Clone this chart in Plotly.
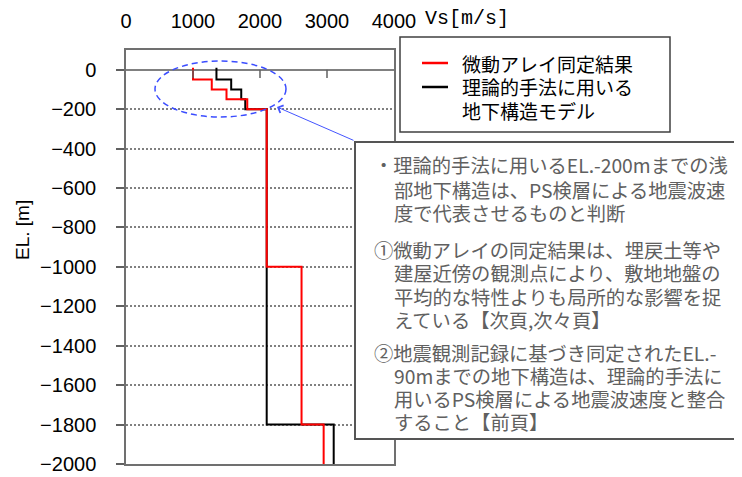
import plotly.graph_objects as go

# ---------------- data ----------------
# Micro-tremor array identification result (red)
red_top = [10, -50, -100, -150, -200, -1000, -1800]
red_bottom = [-50, -100, -150, -200, -1000, -1800, -2000]
red_vs = [1000, 1280, 1500, 1810, 2100, 2620, 2950]

# Subsurface model used in theoretical method (black)
blk_top = [10, -50, -100, -150, -200, -1800]
blk_bottom = [-50, -100, -150, -200, -1800, -2000]
blk_vs = [1350, 1570, 1720, 1780, 2100, 3100]

x_ticks = [0, 1000, 2000, 3000, 4000]
y_ticks = [0, -200, -400, -600, -800, -1000, -1200, -1400, -1600, -1800, -2000]
x_tick_minor_marks = [1000, 2000, 3000]

legend_names = ["微動アレイ同定結果", "理論的手法に用いる", "地下構造モデル"]
note_lines = [
    ("・理論的手法に用いるEL.-200mまでの浅", 0),
    ("部地下構造は、PS検層による地震波速", 1),
    ("度で代表させるものと判断", 1),
    ("①微動アレイの同定結果は、埋戻土等や", 0),
    ("建屋近傍の観測点により、敷地地盤の", 1),
    ("平均的な特性よりも局所的な影響を捉", 1),
    ("えている【次頁,次々頁】", 1),
    ("②地震観測記録に基づき同定されたEL.-", 0),
    ("90mまでの地下構造は、理論的手法に", 1),
    ("用いるPS検層による地震波速度と整合", 1),
    ("すること【前頁】", 1),
]
note_y = [165, 190, 213, 250, 273, 297, 320, 353, 376, 399, 422]


def step_profile(tops, bottoms, vs):
    xs, ys = [], []
    for t, b, v in zip(tops, bottoms, vs):
        xs += [v, v]
        ys += [t, b]
    return xs, ys


# ---------------- geometry ----------------
# the page body adds an 8px margin, so layout positions are shifted by it
OFF = 8
WIDTH, HEIGHT = 742, 477
L, T, PW, PH = 126 - OFF, 50 - OFF, 268, 414
R = WIDTH - L - PW
B = HEIGHT - T - PH


def px(x):
    return (x - OFF - L) / PW


def py(y):
    return (T + PH - (y - OFF)) / PH


JP = "Noto Sans CJK JP"
SANS = "Liberation Sans, Arial, sans-serif"

fig = go.Figure()
bx, by = step_profile(blk_top, blk_bottom, blk_vs)
rx, ry = step_profile(red_top, red_bottom, red_vs)
fig.add_trace(go.Scatter(x=bx, y=by, mode="lines", line=dict(color="#000000", width=2),
                         name="理論的手法に用いる地下構造モデル", showlegend=False))
fig.add_trace(go.Scatter(x=rx, y=ry, mode="lines", line=dict(color="#ff0000", width=2),
                         name="微動アレイ同定結果", showlegend=False))

shapes = []
# tick marks on the zero line
for v in x_tick_minor_marks:
    shapes.append(dict(type="line", xref="x", yref="y", x0=v, x1=v, y0=0, y1=-42,
                       line=dict(color="#606060", width=1.5)))
# blue dashed ellipse
shapes.append(dict(type="circle", xref="paper", yref="paper",
                   x0=px(155), x1=px(286), y0=py(117), y1=py(61),
                   line=dict(color="#3a4cff", width=1.5, dash="6px,4px")))
# legend box
shapes.append(dict(type="rect", xref="paper", yref="paper",
                   x0=px(400), x1=px(670), y0=py(132), y1=py(37),
                   line=dict(color="#404040", width=1.5), fillcolor="white"))
shapes.append(dict(type="line", xref="paper", yref="paper", x0=px(422), x1=px(448),
                   y0=py(63), y1=py(63), line=dict(color="#ff0000", width=2.5)))
shapes.append(dict(type="line", xref="paper", yref="paper", x0=px(422), x1=px(448),
                   y0=py(87), y1=py(87), line=dict(color="#000000", width=2.5)))
# note box
shapes.append(dict(type="rect", xref="paper", yref="paper",
                   x0=px(355), x1=px(760), y0=py(439), y1=py(142),
                   line=dict(color="#555555", width=2), fillcolor="white", layer="above"))

annotations = []
# legend text
for name, yy in zip(legend_names, [63, 87, 110]):
    annotations.append(dict(text=name, xref="paper", yref="paper", x=px(460), y=py(yy),
                            xanchor="left", yanchor="middle", showarrow=False,
                            font=dict(family=JP, size=19, color="#000000")))
# note text
for (line, indent), yy in zip(note_lines, note_y):
    annotations.append(dict(text=line, xref="paper", yref="paper",
                            x=px(372 + 19.5 * indent), y=py(yy),
                            xanchor="left", yanchor="middle", showarrow=False,
                            font=dict(family=JP, size=19.3, color="#606060")))
# arrow from note box to ellipse
annotations.append(dict(text="", xref="paper", yref="paper", x=px(277), y=py(107),
                        ax=78, ay=34, showarrow=True, arrowhead=4, arrowsize=1.6,
                        arrowwidth=1, arrowcolor="#4455ff"))
# axis unit label
annotations.append(dict(text="Vs[m/s]", xref="paper", yref="paper", x=px(423), y=py(18),
                        xanchor="left", yanchor="middle", showarrow=False,
                        font=dict(family="Liberation Mono, monospace", size=20, color="#000")))
# y title
annotations.append(dict(text="EL. [m]", xref="paper", yref="paper", x=px(22), y=py(230),
                        xanchor="center", yanchor="middle", showarrow=False, textangle=-90,
                        font=dict(family=SANS, size=19, color="#000")))

fig.update_layout(
    width=WIDTH, height=HEIGHT,
    margin=dict(l=L, r=R, t=T, b=B, pad=0, autoexpand=False),
    paper_bgcolor="white", plot_bgcolor="white",
    showlegend=False,
    shapes=shapes, annotations=annotations,
    xaxis=dict(range=[0, 4000], side="top", tickvals=x_ticks, automargin=False,
               ticktext=[str(v) for v in x_ticks], ticks="", ticklabelstandoff=12,
               tickfont=dict(family=SANS, size=20, color="#000"),
               showgrid=False, zeroline=False,
               showline=True, mirror=True, linecolor="#707070", linewidth=1.5),
    yaxis=dict(range=[-2000, 100], tickvals=y_ticks, automargin=False,
               ticks="outside", ticklen=8, tickwidth=1.5, tickcolor="#606060",
               ticklabelstandoff=16,
               tickfont=dict(family=SANS, size=20, color="#000"),
               showgrid=True, gridcolor="#808080", gridwidth=1.5, griddash="2px,2px",
               zeroline=True, zerolinecolor="#808080", zerolinewidth=1.5,
               showline=True, mirror=True, linecolor="#707070", linewidth=1.5),
)

fig.write_html("out.html")
